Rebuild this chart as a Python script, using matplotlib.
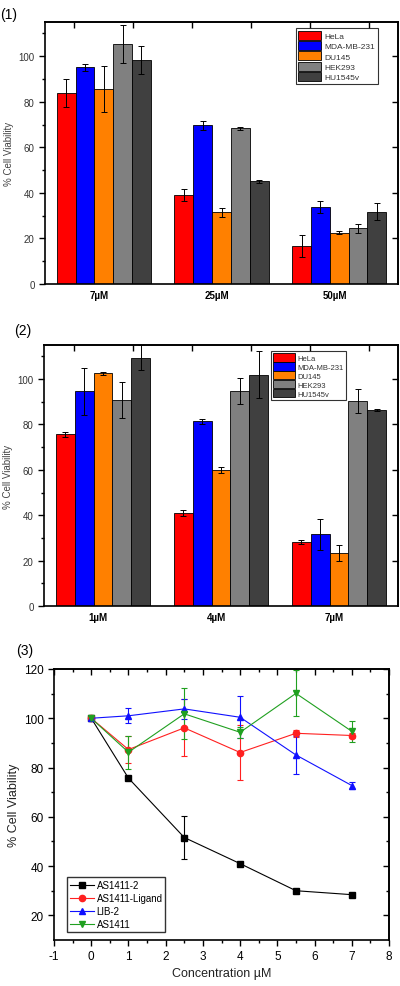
import matplotlib.pyplot as plt
import numpy as np
from matplotlib.ticker import MultipleLocator, FixedLocator, NullFormatter
from matplotlib.lines import Line2D

plt.rcParams['font.family'] = ['Liberation Sans', 'DejaVu Sans']
plt.rcParams['axes.unicode_minus'] = False

# ---- data ----
cell_lines = ['HeLa', 'MDA-MB-231', 'DU145', 'HEK293', 'HU1545v']
bar_colors = ['#ff0000', '#0000ff', '#ff8000', '#808080', '#404040']

conc1 = ['7µM', '25µM', '50µM']
vals1 = [[83.9, 39.1, 16.6],   # HeLa
         [95.2, 69.6, 33.7],   # MDA-MB-231
         [85.5, 31.4, 22.6],   # DU145
         [105.4, 68.3, 24.4],  # HEK293
         [98.4, 45.1, 31.8]]   # HU1545v
errs1 = [[6.2, 2.5, 4.9],
         [1.5, 2.0, 2.7],
         [10.0, 1.8, 0.7],
         [8.5, 0.7, 2.0],
         [6.2, 0.7, 3.7]]

conc2 = ['1µM', '4µM', '7µM']
vals2 = [[75.6, 41.0, 28.2],
         [94.6, 81.4, 31.6],
         [102.5, 59.8, 23.3],
         [90.7, 94.6, 90.2],
         [109.4, 101.9, 86.2]]
errs2 = [[1.3, 1.3, 1.0],
         [10.4, 1.0, 6.7],
         [0.5, 1.3, 3.5],
         [8.0, 5.7, 5.3],
         [5.6, 10.3, 0.4]]

conc3 = [0, 1, 2.5, 4, 5.5, 7]
series3 = ['AS1411-2', 'AS1411-Ligand', 'LIB-2', 'AS1411']
y3 = [[100, 75.7, 51.6, 41.0, 30.0, 28.4],
      [100, 87.3, 96.1, 86.1, 93.9, 93.0],
      [100, 101.0, 103.8, 100.4, 85.1, 72.7],
      [100, 86.2, 101.8, 94.3, 110.1, 94.7]]
e3 = [[0.5, 0.5, 8.7, 0.8, 0.5, 0.5],
      [0.5, 5.4, 11.6, 11.0, 1.5, 1.0],
      [0.5, 3.0, 4.0, 8.5, 7.8, 1.4],
      [0.5, 6.6, 10.3, 2.2, 9.3, 4.2]]
line_colors = ['black', '#ff2020', '#1010ff', '#20a020']
markers = ['s', 'o', '^', 'v']

fig = plt.figure(figsize=(4, 9.87), dpi=100)


def inward_mirror(ax, xticks, yticks, yminor=None, xminor=None):
    # Origin-style: outward ticks on left/bottom, inward on top/right
    top = ax.secondary_xaxis('top')
    top.xaxis.set_major_locator(FixedLocator(xticks))
    if xminor is not None:
        top.xaxis.set_minor_locator(FixedLocator(xminor))
    top.tick_params(which='major', direction='in', length=4, width=1, labeltop=False)
    top.tick_params(which='minor', direction='in', length=2, width=1)
    top.xaxis.set_major_formatter(NullFormatter())
    top.spines['top'].set_linewidth(1.2)
    right = ax.secondary_yaxis('right')
    right.yaxis.set_major_locator(FixedLocator(yticks))
    if yminor is not None:
        right.yaxis.set_minor_locator(FixedLocator(yminor))
    right.tick_params(which='major', direction='in', length=4, width=1, labelright=False)
    right.tick_params(which='minor', direction='in', length=2, width=1)
    right.yaxis.set_major_formatter(NullFormatter())
    right.spines['right'].set_linewidth(1.2)


def bar_panel(rect, groups, vals, errs, legend_rect, leg_fs, leg_sp):
    ax = fig.add_axes(rect)
    x = np.arange(len(groups))
    w = 0.16
    for i, name in enumerate(cell_lines):
        ax.bar(x + (i - 2) * w, vals[i], w, yerr=errs[i], color=bar_colors[i],
               edgecolor='black', linewidth=0.6, label=name,
               error_kw=dict(ecolor='black', elinewidth=0.7, capsize=2, capthick=0.7))
    ax.set_xlim(-0.5, 2.5)
    ax.set_ylim(0, 115)
    ax.set_xticks(x - 0.04)
    ax.set_xticklabels(groups, fontweight='bold', fontsize=7)
    ax.tick_params(axis='x', length=0, pad=4)
    ax.yaxis.set_major_locator(MultipleLocator(20))
    ax.yaxis.set_minor_locator(MultipleLocator(10))
    ax.tick_params(axis='y', which='major', direction='out', length=4, width=1,
                   labelsize=7, labelcolor='#333333')
    ax.tick_params(axis='y', which='minor', direction='out', length=2, width=1)
    for s in ax.spines.values():
        s.set_linewidth(1.2)
    ax.set_ylabel('% Cell Viability', fontsize=7, color='#444444', labelpad=3)
    inward_mirror(ax, [-0.25, 0.25, 0.75, 1.25, 1.75, 2.25],
                  [20, 40, 60, 80, 100])
    leg = ax.legend(loc='upper left', bbox_to_anchor=legend_rect, fontsize=leg_fs,
                    frameon=True, fancybox=False, edgecolor='black',
                    handlelength=2.8, handleheight=1.3, handletextpad=0.4,
                    borderpad=0.3, labelspacing=leg_sp, borderaxespad=0)
    leg.get_frame().set_linewidth(0.8)
    for t in leg.get_texts():
        t.set_color('#333333')
    return ax


ax1 = bar_panel([0.1125, 0.7112, 0.8825, 0.2655], conc1, vals1, errs1,
                (0.71, 0.977), 6, 0.12)
ax2 = bar_panel([0.11, 0.385, 0.885, 0.2644], conc2, vals2, errs2,
                (0.641, 0.977), 5.5, 0.02)

# ---- panel 3 ----
ax3 = fig.add_axes([0.135, 0.0466, 0.8375, 0.2746])
for i, name in enumerate(series3):
    ax3.errorbar(conc3, y3[i], yerr=e3[i], color=line_colors[i], marker=markers[i],
                 markersize=4.5, linewidth=0.8, elinewidth=0.8, capsize=2.5,
                 capthick=0.8)
ax3.set_xlim(-1, 8)
ax3.set_ylim(10, 120)
ax3.xaxis.set_major_locator(MultipleLocator(1))
ax3.xaxis.set_minor_locator(MultipleLocator(0.5))
ax3.yaxis.set_major_locator(FixedLocator([20, 40, 60, 80, 100, 120]))
ax3.yaxis.set_minor_locator(FixedLocator([30, 50, 70, 90, 110]))
ax3.tick_params(which='major', direction='out', length=4, width=1, labelsize=8.5)
ax3.tick_params(which='minor', direction='out', length=2, width=1)
for s in ax3.spines.values():
    s.set_linewidth(1.2)
inward_mirror(ax3, list(range(-1, 9)), [20, 40, 60, 80, 100, 120],
              yminor=[30, 50, 70, 90, 110],
              xminor=list(np.arange(-0.5, 8, 1.0)))
ax3.set_xlabel('Concentration µM', fontsize=9, color='#222222', labelpad=3)
ax3.set_ylabel('% Cell Viability', fontsize=9, color='#222222', labelpad=3)
handles = [Line2D([], [], color=line_colors[i], marker=markers[i], markersize=4.5,
                  linewidth=0.8) for i in range(len(series3))]
leg3 = ax3.legend(handles, series3, loc='lower left', bbox_to_anchor=(0.04, 0.03),
                  fontsize=7, frameon=True, fancybox=False, edgecolor='black',
                  handlelength=2.4, handletextpad=0.3, borderpad=0.3,
                  labelspacing=0.3, borderaxespad=0)
leg3.get_frame().set_linewidth(1.0)

fig.text(0.0, 0.9848, '(1)', fontsize=10, va='center', ha='left')
fig.text(0.035, 0.665, '(2)', fontsize=10, va='center', ha='left')
fig.text(0.04, 0.3405, '(3)', fontsize=10, va='center', ha='left')

fig.savefig('out.png', dpi=100)
